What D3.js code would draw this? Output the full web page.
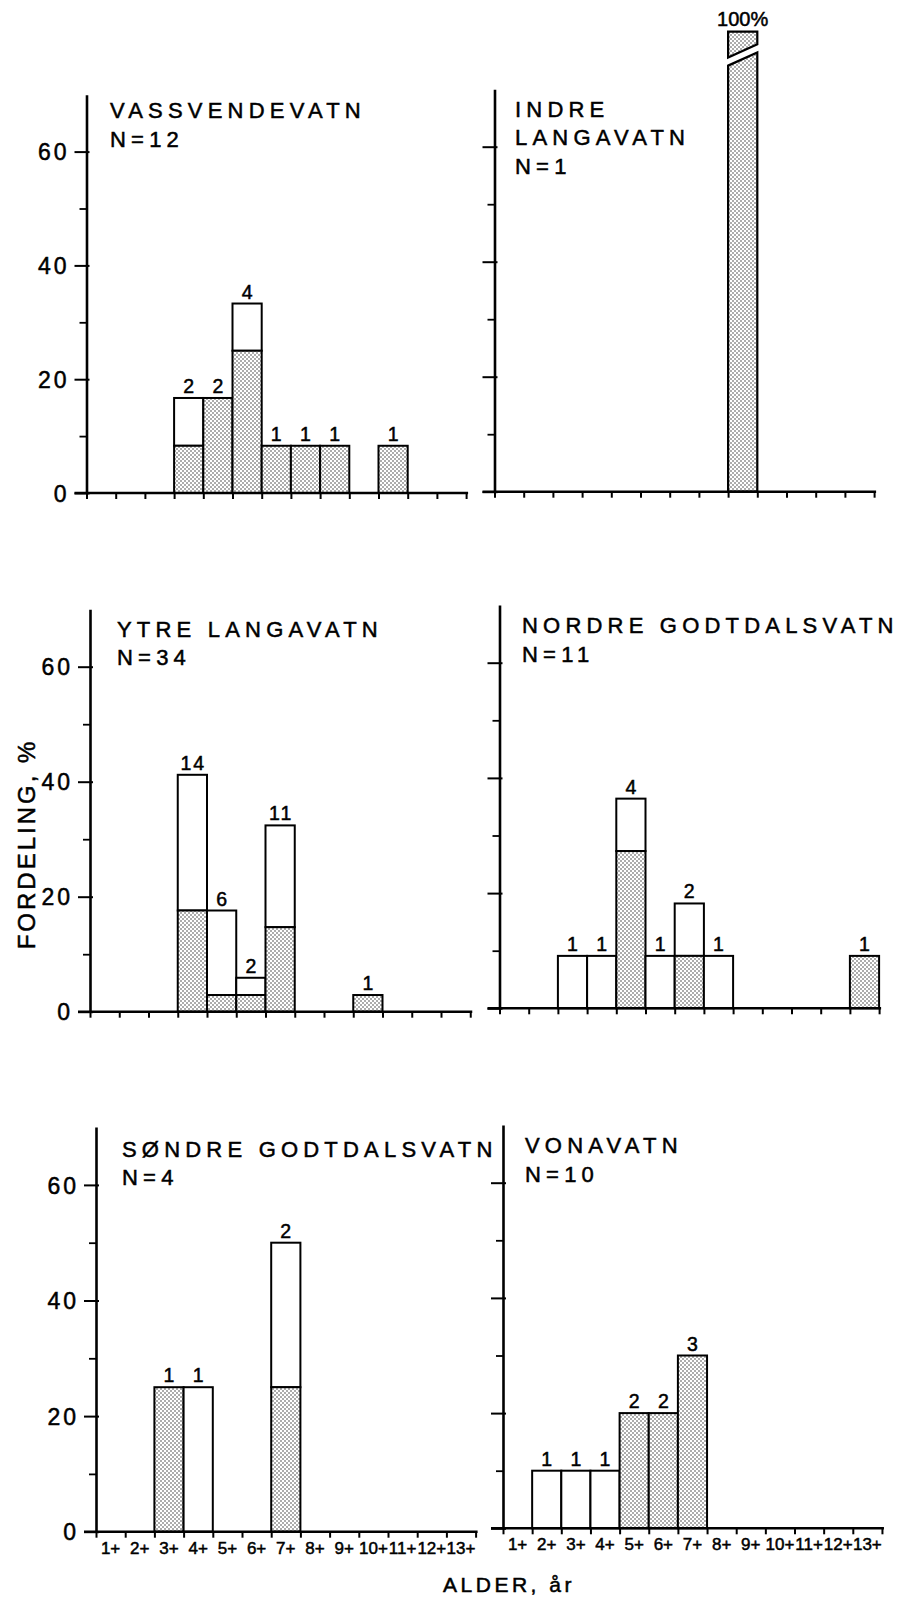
<!DOCTYPE html>
<html><head><meta charset="utf-8">
<script src="https://cdn.jsdelivr.net/npm/d3@7"></script>
<style>
html,body{margin:0;padding:0;background:#fff;}
svg text{font-family:"Liberation Sans",Arial,Helvetica,sans-serif;fill:#000;stroke:#000;stroke-width:0.5px;}
</style></head><body>
<svg id="chart" width="905" height="1597"></svg>
<script>
// ---------- DATA ----------
const ages = ["1+","2+","3+","4+","5+","6+","7+","8+","9+","10+","11+","12+","13+"];
const lakeTitleLines = [
  ["VASSVENDEVATN"],
  ["INDRE","LANGAVATN"],
  ["YTRE LANGAVATN"],
  ["NORDRE GODTDALSVATN"],
  ["SØNDRE GODTDALSVATN"],
  ["VONAVATN"]
];
const sampleN = [12, 1, 34, 11, 4, 10];
// total percentage per age class (whole bar)
const totalPct = [
  [0,0,0,16.7,16.7,33.3,8.3,8.3,8.3,0,8.3,0,0],
  [0,0,0,0,0,0,0,0,100,0,0,0,0],
  [0,0,0,41.2,17.6,5.9,32.4,0,0,2.9,0,0,0],
  [0,0,9.1,9.1,36.4,9.1,18.2,9.1,0,0,0,0,9.1],
  [0,0,25,25,0,0,50,0,0,0,0,0,0],
  [0,10,10,10,20,20,30,0,0,0,0,0,0]
];
// stippled (lower) part of each bar, percent
const stippledPct = [
  [0,0,0,8.3,16.7,25,8.3,8.3,8.3,0,8.3,0,0],
  [0,0,0,0,0,0,0,0,100,0,0,0,0],
  [0,0,0,17.6,2.9,2.9,14.7,0,0,2.9,0,0,0],
  [0,0,0,0,27.3,0,9.1,0,0,0,0,0,9.1],
  [0,0,25,0,0,0,25,0,0,0,0,0,0],
  [0,0,0,0,20,20,30,0,0,0,0,0,0]
];
// labels written above the bars (number of fish)
const barLabels = [
  ["","","","2","2","4","1","1","1","","1","",""],
  ["","","","","","","","","100%","","","",""],
  ["","","","14","6","2","11","","","1","","",""],
  ["","","1","1","4","1","2","1","","","","","1"],
  ["","","1","1","","","2","","","","","",""],
  ["","1","1","1","2","2","3","","","","","",""]
];
const yTickValues = [0, 20, 40, 60];
const yMinorTicks = [10, 30, 50];
const yMax = 70;
const yLabel = "FORDELING, %";
const xLabel = "ALDER, år";

// ---------- LAYOUT ----------
const layout = [
  {ox:86.5, zy:493,    k:5.69, bw:29.2,  tx:110, yLab:true,  xLab:false},
  {ox:494.5,zy:491.7,  k:5.75, bw:29.2,  tx:515, yLab:false, xLab:false},
  {ox:90,   zy:1011.7, k:5.75, bw:29.25, tx:117, yLab:true,  xLab:false},
  {ox:499.5,zy:1008.3, k:5.76, bw:29.2,  tx:522, yLab:false, xLab:false},
  {ox:96,   zy:1531.7, k:5.78, bw:29.2,  tx:122, yLab:true,  xLab:true},
  {ox:503,  zy:1528.3, k:5.76, bw:29.15, tx:525, yLab:false, xLab:true}
];

const svg = d3.select("#chart");
const defs = svg.append("defs");
const pat = defs.append("pattern").attr("id","stip").attr("width",4).attr("height",4)
  .attr("patternUnits","userSpaceOnUse");
pat.append("rect").attr("width",4).attr("height",4).attr("fill","#fff");
pat.append("rect").attr("x",0.4).attr("y",0.4).attr("width",1.2).attr("height",1.2).attr("fill","#1a1a1a");
pat.append("rect").attr("x",2.4).attr("y",2.4).attr("width",1.2).attr("height",1.2).attr("fill","#1a1a1a");

layout.forEach((L, p) => {
  const g = svg.append("g");
  const x0 = L.ox, x1 = L.ox + ages.length * L.bw;
  const y = d3.scaleLinear().domain([0, yMax]).range([L.zy, L.zy - yMax * L.k]);
  const xb = d3.scaleBand().domain(ages).range([x0, x1]).padding(0);
  const xs = d3.scaleLinear().domain([0, ages.length]).range([x0, x1]);

  // bars
  ages.forEach((a, i) => {
    const tot = totalPct[p][i], st = stippledPct[p][i];
    if (!tot) return;
    const bx = xb(a), bw = xb.bandwidth();
    if (tot > yMax) {
      // broken bar
      const top = y(80);
      const upper = [[bx, top],[bx+bw, top],[bx+bw, y(77.8)],[bx, y(75.5)]];
      const lower = [[bx, y(74.1)],[bx+bw, y(76.4)],[bx+bw, y(0)],[bx, y(0)]];
      [upper, lower].forEach(poly => {
        g.append("path").attr("d", d3.line()(poly) + "Z")
          .attr("fill", st > 0 ? "url(#stip)" : "#fff")
          .attr("stroke","#000").attr("stroke-width",2.2).attr("stroke-linejoin","miter");
      });
      g.append("text").attr("x", bx + bw/2).attr("y", top - 6)
        .attr("text-anchor","middle").attr("font-size",20).attr("letter-spacing",0)
        .text(barLabels[p][i]);
      return;
    }
    if (tot > st) {
      g.append("rect").attr("x", bx).attr("y", y(tot)).attr("width", bw)
        .attr("height", y(st) - y(tot)).attr("fill","#fff")
        .attr("stroke","#000").attr("stroke-width",2);
    }
    if (st > 0) {
      g.append("rect").attr("x", bx).attr("y", y(st)).attr("width", bw)
        .attr("height", y(0) - y(st)).attr("fill","url(#stip)")
        .attr("stroke","#000").attr("stroke-width",2);
    }
    if (barLabels[p][i]) {
      g.append("text").attr("x", bx + bw/2 + 1).attr("y", y(tot) - 5)
        .attr("text-anchor","middle").attr("font-size",19.5).attr("letter-spacing",2)
        .text(barLabels[p][i]);
    }
  });

  // x axis baseline
  g.append("line").attr("x1", x0 - 12).attr("x2", x1 + 2)
    .attr("y1", L.zy).attr("y2", L.zy).attr("stroke","#000").attr("stroke-width",2.6);
  // x boundary ticks
  const xa = g.append("g").attr("transform", `translate(0,${L.zy})`)
    .call(d3.axisBottom(xs).tickValues(d3.range(ages.length + 1)).tickSize(6).tickSizeOuter(0).tickFormat(""));
  xa.select(".domain").remove();
  xa.selectAll(".tick line").attr("stroke","#000").attr("stroke-width",2);

  if (L.xLab) {
    const xl = g.append("g").attr("transform", `translate(0,${L.zy})`)
      .call(d3.axisBottom(xb).tickSize(0).tickPadding(10));
    xl.select(".domain").remove();
    xl.selectAll(".tick text").attr("font-size",17).attr("fill","#000")
      .attr("font-family",'"Liberation Sans",Arial,sans-serif').attr("letter-spacing",0);
  }

  // y axis
  const ya = g.append("g").attr("transform", `translate(${x0},0)`)
    .call(d3.axisLeft(y).tickValues(yTickValues).tickSize(12).tickSizeOuter(0).tickPadding(5)
      .tickFormat(L.yLab ? d3.format("d") : ""));
  ya.select(".domain").attr("stroke","#000").attr("stroke-width",2.6);
  ya.selectAll(".tick line").attr("x1", 3).attr("stroke","#000").attr("stroke-width",2);
  ya.selectAll(".tick text").attr("font-size",23).attr("fill","#000").attr("dy","0.36em")
    .attr("font-family",'"Liberation Sans",Arial,sans-serif').attr("letter-spacing",3);
  const ym = g.append("g").attr("transform", `translate(${x0},0)`)
    .call(d3.axisLeft(y).tickValues(yMinorTicks).tickSize(7).tickSizeOuter(0).tickFormat(""));
  ym.select(".domain").remove();
  ym.selectAll(".tick line").attr("stroke","#000").attr("stroke-width",1.8);

  // titles
  const lines = lakeTitleLines[p].concat(["N=" + sampleN[p]]);
  lines.forEach((t, j) => {
    g.append("text").attr("x", L.tx).attr("y", L.zy - 375 + j * 28.5)
      .attr("font-size",22).attr("letter-spacing",5.2).text(t);
  });
});

// axis titles
svg.append("text").attr("transform","translate(35,844) rotate(-90)")
  .attr("text-anchor","middle").attr("font-size",24).attr("letter-spacing",3).text(yLabel);
svg.append("text").attr("x",509).attr("y",1592)
  .attr("text-anchor","middle").attr("font-size",21).attr("letter-spacing",3.5).text(xLabel);
</script>
</body></html>
